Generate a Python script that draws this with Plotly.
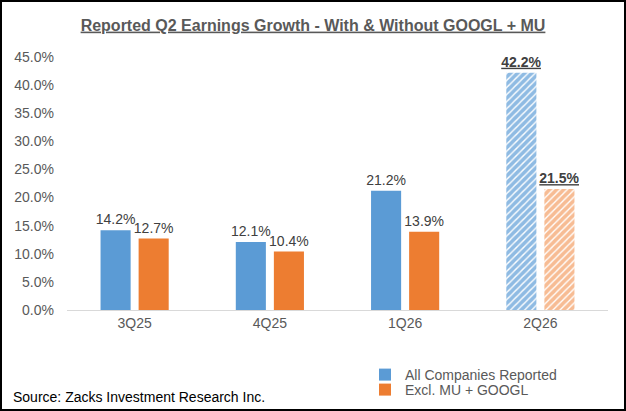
import plotly.graph_objects as go

categories = ["3Q25", "4Q25", "1Q26", "2Q26"]
all_companies = [14.2, 12.1, 21.2, 42.2]
excl_mu_googl = [12.7, 10.4, 13.9, 21.5]
y_ticks = [0, 5, 10, 15, 20, 25, 30, 35, 40, 45]
y_tick_text = [f"{v:.1f}%" for v in y_ticks]

BLUE = "#5B9BD5"
ORANGE = "#ED7D31"
HATCH_BLUE = "#1F78C8"
HATCH_ORANGE = "#F07A2A"
GRAY = "#595959"
LABEL = "#404040"
FONT = "Liberation Sans, Arial, sans-serif"

W, H = 626, 411
ML, MR, MT, MB = 67, 18, 57, 101
PW, PH = W - ML - MR, H - MT - MB


def labels(vals):
    out = []
    for i, v in enumerate(vals):
        s = f"{v:.1f}%"
        if i == len(vals) - 1:
            s = f"<b><u>{s}</u></b>"
        out.append(s)
    return out


shapes_pat = ["", "", "", "/"]

fig = go.Figure()
for name, vals, col, hcol, lg in [("All Companies Reported", all_companies, BLUE, HATCH_BLUE, "legend"),
                                  ("Excl. MU + GOOGL", excl_mu_googl, ORANGE, HATCH_ORANGE, "legend2")]:
    fig.add_trace(go.Bar(
        x=categories, y=vals, name=name, legend=lg,
        marker=dict(color=col, line=dict(width=0),
                    pattern=dict(shape=shapes_pat, fgcolor=hcol, bgcolor="white",
                                 size=5, solidity=0.72, fillmode="overlay")),
        text=labels(vals), textposition="outside", constraintext="none",
        cliponaxis=False,
        textfont=dict(size=14, color=LABEL, family=FONT),
    ))

legend_common = dict(xanchor="left", yanchor="middle", font=dict(size=14, color=GRAY),
                     bgcolor="rgba(0,0,0,0)", itemwidth=30)

fig.update_layout(
    width=W, height=H,
    margin=dict(l=ML, r=MR, t=MT, b=MB, autoexpand=False),
    paper_bgcolor="white", plot_bgcolor="white",
    barmode="group", bargap=0.437, bargroupgap=0.21,
    font=dict(family=FONT, color=GRAY, size=14),
    title=dict(text="<b><u>Reported Q2 Earnings Growth - With & Without GOOGL + MU</u></b>",
               x=0.5, xref="container", xanchor="center",
               y=1 - 25 / H, yref="container", yanchor="middle",
               font=dict(size=16, color=GRAY, family=FONT)),
    xaxis=dict(showline=True, linecolor="#D9D9D9", linewidth=1, ticks="",
               showgrid=False, automargin=False, tickfont=dict(size=14, color=GRAY)),
    yaxis=dict(range=[0, 45], tickvals=y_ticks, ticktext=y_tick_text,
               showgrid=False, zeroline=False, showline=False, automargin=False,
               ticklabelstandoff=12, tickfont=dict(size=14, color=GRAY)),
    legend=dict(x=(365 - ML) / PW, y=(310 - 375) / PH, **legend_common),
    legend2=dict(x=(365 - ML) / PW, y=(310 - 390) / PH, **legend_common),
    showlegend=True,
    annotations=[dict(text="Source: Zacks Investment Research Inc.",
                      xref="paper", yref="paper",
                      x=(11 - ML) / PW, y=(310 - 397) / PH,
                      xanchor="left", yanchor="middle", showarrow=False,
                      font=dict(size=14, color="black", family=FONT))],
    shapes=[dict(type="rect", xref="paper", yref="paper",
                 x0=(1 - ML) / PW, x1=1 + (MR - 1) / PW,
                 y0=-(MB - 1) / PH, y1=1 + (MT - 1) / PH,
                 line=dict(color="black", width=2), fillcolor="rgba(0,0,0,0)")],
)

fig.write_html("out.html", config={"displayModeBar": False},
               post_script="document.body.style.margin='0';document.body.style.overflow='hidden';")
